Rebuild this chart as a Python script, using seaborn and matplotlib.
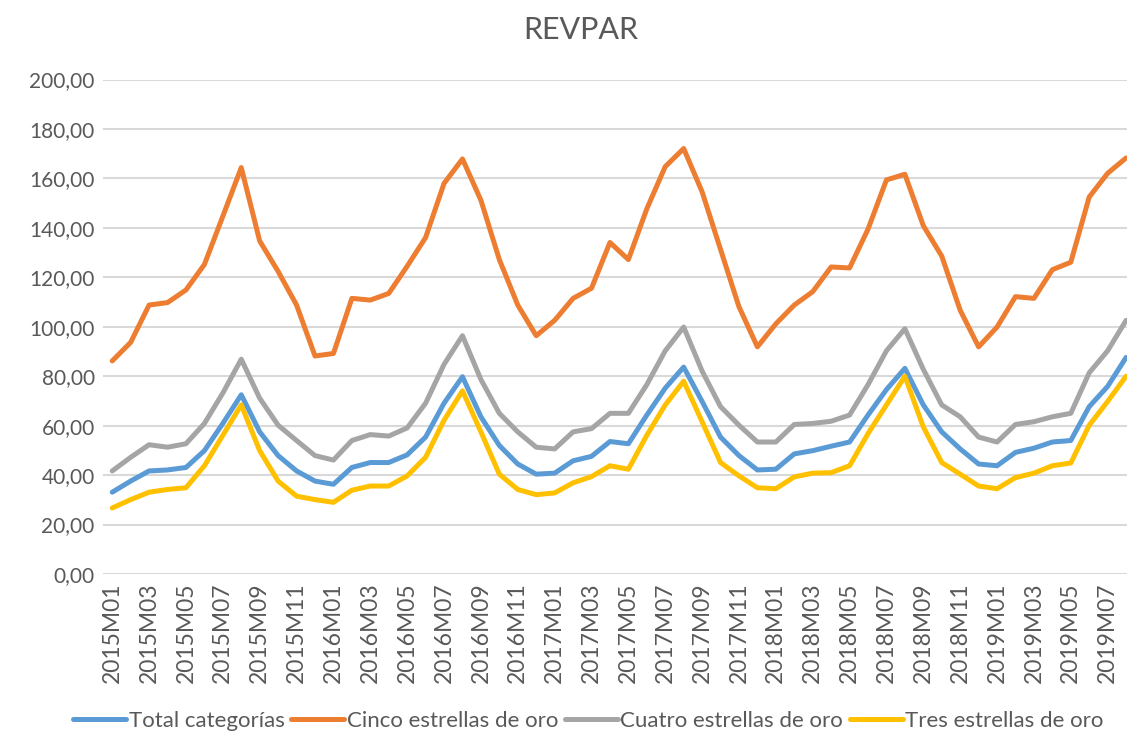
import pandas as pd
import seaborn as sns
import matplotlib.pyplot as plt

sns.set_style("white")
plt.rcParams['font.family'] = ['Lato', 'DejaVu Sans']

# months 2015M01 .. 2019M08
years = [2015, 2016, 2017, 2018, 2019]
periods = [f"{y}M{m:02d}" for y in years for m in range(1, 13)][:56]

total = [33.1, 37.6, 41.7, 42.1, 43.1, 49.9, 60.9, 72.5, 57.5, 47.9, 41.7, 37.6,
         36.3, 43.1, 45.1, 45.1, 48.2, 55.4, 69.1, 79.8, 63.6, 52.0, 44.5, 40.4,
         40.8, 45.8, 47.6, 53.6, 52.7, 64.3, 75.2, 83.7, 69.8, 55.4, 47.9, 42.1,
         42.4, 48.6, 49.9, 51.7, 53.4, 64.3, 74.6, 83.2, 68.4, 57.5, 50.6, 44.5,
         43.8, 49.2, 50.9, 53.4, 54.0, 67.7, 75.9, 87.6]
cinco = [86.2, 93.7, 108.8, 109.8, 114.9, 125.2, 144.7, 164.4, 134.7, 122.4, 108.8, 88.2,
         89.2, 111.5, 110.8, 113.5, 124.5, 136.1, 158.0, 167.9, 151.2, 127.2, 108.8, 96.4,
         102.6, 111.5, 115.6, 134.1, 127.2, 147.7, 164.8, 172.1, 154.6, 131.3, 108.1, 91.9,
         101.2, 108.8, 114.2, 124.2, 123.8, 139.5, 159.4, 161.7, 140.9, 128.6, 106.7, 91.9,
         99.9, 112.2, 111.5, 123.1, 126.1, 152.5, 162.1, 168.3]
cuatro = [41.7, 47.2, 52.3, 51.3, 52.7, 60.9, 73.2, 86.9, 71.1, 60.2, 54.0, 47.9,
          46.1, 54.0, 56.4, 55.8, 59.1, 69.1, 84.8, 96.4, 78.7, 65.0, 57.5, 51.3,
          50.6, 57.5, 58.8, 65.0, 65.0, 76.6, 90.3, 99.9, 82.1, 67.7, 60.2, 53.4,
          53.4, 60.5, 60.9, 61.8, 64.3, 76.6, 90.3, 99.2, 82.8, 68.4, 63.6, 55.4,
          53.4, 60.5, 61.6, 63.6, 65.0, 81.4, 90.3, 102.6]
tres = [26.7, 30.1, 33.1, 34.2, 34.9, 43.8, 56.1, 68.4, 49.9, 37.6, 31.5, 30.1,
        29.0, 33.9, 35.6, 35.6, 39.7, 47.2, 62.2, 74.1, 57.5, 40.4, 34.2, 32.1,
        32.8, 36.9, 39.4, 43.8, 42.4, 56.1, 68.4, 78.0, 61.6, 45.1, 39.7, 34.9,
        34.5, 39.3, 40.8, 41.0, 43.8, 56.8, 68.4, 80.0, 59.5, 45.1, 40.4, 35.6,
        34.5, 39.0, 40.8, 43.8, 44.9, 60.2, 69.8, 80.0]

series = ["Total categorías", "Cinco estrellas de oro",
          "Cuatro estrellas de oro", "Tres estrellas de oro"]
colors = ["#5B9BD5", "#ED7D31", "#A5A5A5", "#FFC000"]

frames = []
for name, vals in zip(series, [total, cinco, cuatro, tres]):
    frames.append(pd.DataFrame({"idx": range(len(vals)), "periodo": periods[:len(vals)],
                                "valor": vals, "serie": name}))
df = pd.concat(frames, ignore_index=True)

fig = plt.figure(figsize=(11.27, 7.32), dpi=100)
ax = fig.add_axes([0.0914, 0.2158, 0.9086, 0.6755])

sns.lineplot(data=df, x="idx", y="valor", hue="serie", hue_order=series,
             palette=colors, linewidth=3.6, sort=False, ax=ax, legend=False)

ax.set_xlim(-0.5, 55.05)
ax.set_ylim(0, 200)
ax.set_yticks(range(0, 201, 20))
ax.set_yticklabels([f"{v},00" for v in range(0, 201, 20)], fontsize=15, color="#595959")
ax.set_xticks(range(0, len(periods), 2))
ax.set_xticklabels(periods[::2], rotation=90, fontsize=16.5, color="#595959")
ax.tick_params(axis="both", length=0, pad=6)
ax.grid(axis="y", color="#D9D9D9", linewidth=1.5)
ax.set_axisbelow(True)
for s in ax.spines.values():
    s.set_visible(False)
ax.set_xlabel("")
ax.set_ylabel("")

fig.suptitle("REVPAR", y=0.978, x=0.515, fontsize=22, color="#595959")

handles = ax.get_lines()[:4]
fig.legend(handles, series, loc="lower center", bbox_to_anchor=(0.522, -0.026),
           ncol=4, frameon=False, fontsize=16, handlelength=2.4,
           handletextpad=0.1, columnspacing=0.3, labelcolor="#595959")

fig.savefig("out.png", dpi=100)
